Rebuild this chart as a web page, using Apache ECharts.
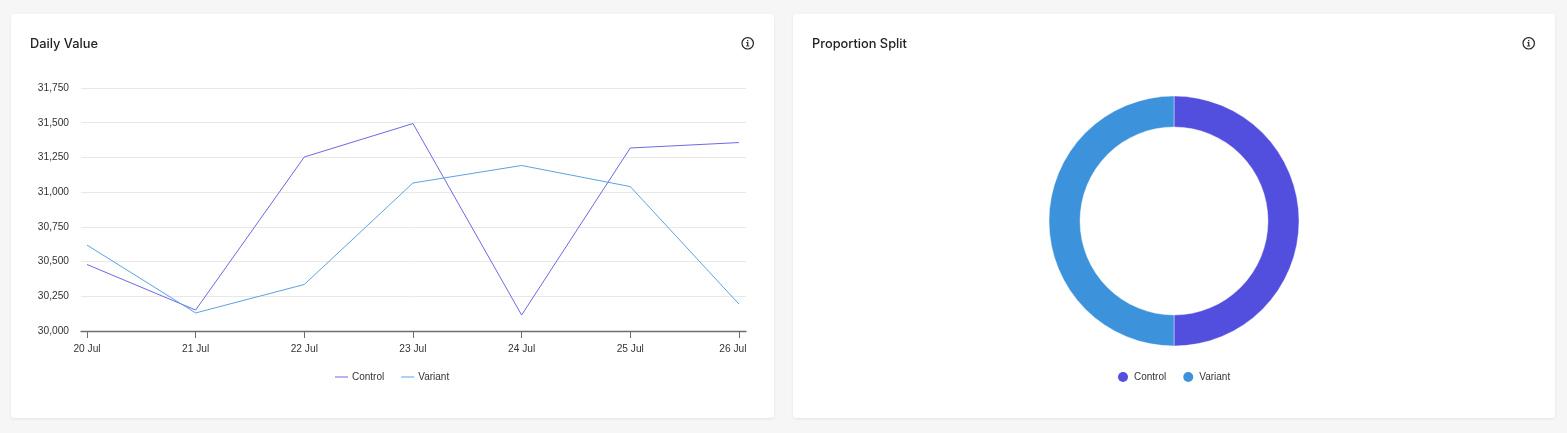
<!DOCTYPE html>
<html><head><meta charset="utf-8">
<script src="https://cdn.jsdelivr.net/npm/echarts@6/dist/echarts.min.js"></script>
<style>html,body{margin:0;padding:0;background:#f6f6f6;overflow:hidden}#c{width:1567px;height:433px}</style>
</head><body><div id="c"></div>
<script>
const days = ['20 Jul','21 Jul','22 Jul','23 Jul','24 Jul','25 Jul','26 Jul'];
const controlValues = [30479,30151,31253,31494,30115,31318,31357];
const variantValues = [30619,30130,30335,31066,31192,31040,30194];
const splitNames = ['Control','Variant'];
const splitValues = [50,50];
const yTicks = {min:30000,max:31750,step:250};
const titles = ['Daily Value','Proportion Split'];
const PURPLE='#524ede', BLUE='#3d92dc';
const PIE=[PURPLE,BLUE];
const idx = days.map((d,i)=>i);
const card=(x,w)=>({type:'rect',z:-1,shape:{x:x,y:14,width:w,height:404,r:3},style:{fill:'#fff',shadowBlur:3,shadowColor:'rgba(0,0,0,0.08)',shadowOffsetY:1}});
const info=(cx)=>{const cy=43.3,ink='#222';const r=(x,y,w,h)=>({type:'rect',shape:{x:cx+x,y:cy+y,width:w,height:h},style:{fill:ink}});
 return [
 {type:'circle',shape:{cx:cx,cy:cy,r:5.7},style:{fill:'none',stroke:ink,lineWidth:1.2}},
 r(-0.6,-3.3,1.2,1.2), r(-1.5,-1.1,2.1,0.9), r(-0.6,-1.1,1.2,3.6), r(-1.6,2.2,3.2,0.9)
];};
const font='"Liberation Sans"';
const chart=echarts.init(document.getElementById('c'),null,{renderer:'canvas'});
const titleStyle={fontFamily:'Inter',fontSize:12.8,fontWeight:500,color:'#222',lineHeight:15};
chart.setOption({
 animation:false,
 backgroundColor:'#f6f6f6',
 color:[PURPLE,BLUE],
 textStyle:{fontFamily:font},
 title:[
  {text:titles[0],left:30,top:37,padding:0,textStyle:titleStyle},
  {text:titles[1],left:812,top:37,padding:0,textStyle:titleStyle}
 ],
 graphic:[card(11,763),card(793,762),...info(747.7),...info(1528.7)],
 legend:[
  {data:splitNames,left:335,top:372,padding:0,itemWidth:13,itemHeight:2,itemGap:17,icon:'path://M0 0H13V1H0Z',textStyle:{fontSize:10,color:'#333',padding:[0,0,0,-1]}},
  {data:splitNames.map((name,i)=>({name,itemStyle:{color:PIE[i]}})),left:1118,top:372,padding:0,itemWidth:10,itemHeight:10,itemGap:17,icon:'circle',textStyle:{fontSize:10,color:'#333',padding:[0,0,0,1]}}
 ],
 grid:{left:81,width:665,top:88,height:243,containLabel:false},
 xAxis:{type:'value',min:-0.055,max:6.065,
  axisLine:{show:true,onZero:false,lineStyle:{color:'#6e6e6e',width:1.3}},
  splitLine:{show:false},
  axisTick:{show:true,length:7,customValues:idx,lineStyle:{color:'#6e6e6e'}},
  axisLabel:{customValues:idx,margin:13,fontSize:10.2,color:'#333',hideOverlap:false,
   formatter:v=>v===days.length-1?'{last|'+days[v]+'}':days[v],
   rich:{last:{fontSize:10.2,color:'#333',padding:[0,12,0,0]}}}},
 yAxis:{type:'value',min:yTicks.min,max:yTicks.max,interval:yTicks.step,
  axisLine:{show:false},axisTick:{show:false},
  axisLabel:{margin:12,fontSize:10.2,color:'#333',padding:[3,0,0,0],formatter:v=>v.toLocaleString('en-US')},
  splitLine:{show:true,lineStyle:{color:'#e8e8e8',width:1}}},
 series:[
  {name:splitNames[0],type:'line',data:controlValues.map((v,i)=>[i,v]),symbol:'none',lineStyle:{width:1,color:'#6d68e6'},itemStyle:{color:'#6d68e6'},z:3},
  {name:splitNames[1],type:'line',data:variantValues.map((v,i)=>[i,v]),symbol:'none',lineStyle:{width:1,color:'#5aa3e3'},itemStyle:{color:'#5aa3e3'},z:4},
  {name:'Split',type:'pie',center:[1174,221],radius:[94,125],startAngle:90,clockwise:true,
   label:{show:false},labelLine:{show:false},
   itemStyle:{borderColor:'rgba(255,255,255,0.4)',borderWidth:1},
   data:splitNames.map((n,i)=>({name:n,value:splitValues[i],itemStyle:{color:PIE[i]}}))}
 ]
});
</script></body></html>
